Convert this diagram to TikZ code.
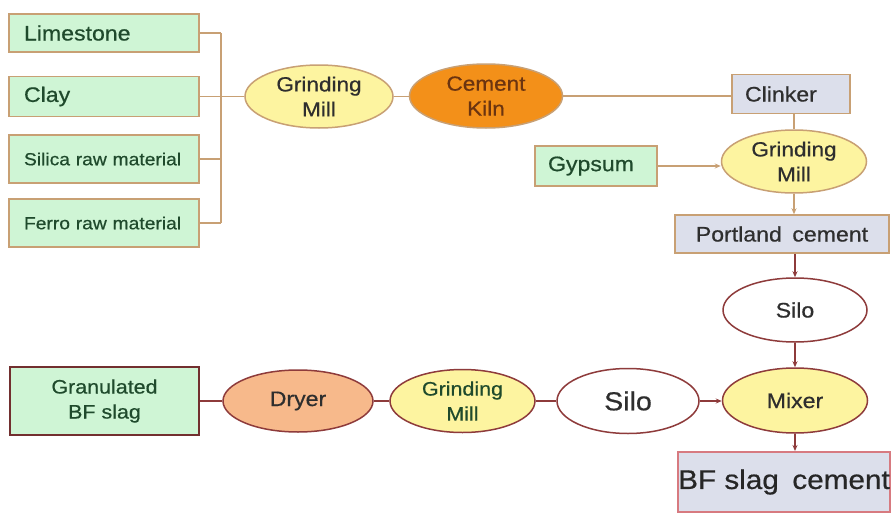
\documentclass[tikz,border=0pt]{standalone}
\usepackage{fontspec}
\setmainfont{Liberation Sans}[FakeStretch=1.1,FakeBold=0.6]
\usetikzlibrary{shapes.geometric,arrows.meta}
\definecolor{greenf}{HTML}{CFF5D5}
\definecolor{greent}{HTML}{1F4A2C}
\definecolor{tanb}{HTML}{C8A074}
\definecolor{yellowf}{HTML}{FDF4A0}
\definecolor{kilnf}{HTML}{F39019}
\definecolor{kilnt}{HTML}{6B3410}
\definecolor{dryerf}{HTML}{F7B98B}
\definecolor{grayf}{HTML}{DCDFEB}
\definecolor{pinkb}{HTML}{D77A80}
\definecolor{redb}{HTML}{8E3B3B}
\definecolor{darkt}{HTML}{2E2E2E}
\tikzset{
  fs/.style={font=\fontsize{#1}{25}\selectfont},
  greenbox/.style={draw=tanb, fill=greenf, line width=1.5pt, text=greent, rectangle, inner sep=0pt, align=left},
  graybox/.style={draw=tanb, fill=grayf, line width=1.5pt, text=darkt, rectangle, inner sep=0pt},
  yell/.style={ellipse, draw=tanb, fill=yellowf, line width=1.5pt, text=darkt, inner sep=0pt, align=center},
  tanline/.style={draw=tanb, line width=1.5pt},
  redline/.style={draw=redb, line width=1.5pt},
  arr/.style={-{Stealth[length=6pt,width=5pt]}},
}
\begin{document}
\begin{tikzpicture}[x=1pt,y=-1pt]
\useasboundingbox[fill=white] (0,0) rectangle (892,514);
% raw materials
\node[greenbox, fs=21, minimum width=190, minimum height=38, text width=180] (lime) at (104,33) {\hspace*{10pt}Limestone};
\node[greenbox, fs=21, minimum width=190, minimum height=40, text width=180] (clay) at (104,96.5) {\hspace*{10pt}Clay};
\node[greenbox, fs=17.5, minimum width=190, minimum height=48, text width=180] (silica) at (104,159) {\hspace*{10pt}Silica raw material};
\node[greenbox, fs=17.5, minimum width=190, minimum height=48, text width=180] (ferro) at (104,223) {\hspace*{10pt}Ferro raw material};
\coordinate (bx) at (221,0);
\node[yell, fs=20.5, minimum width=148, minimum height=63] (gm1) at (319,96.5) {Grinding\\Mill};
\node[ellipse, draw=tanb, fill=kilnf, line width=1.5pt, text=kilnt, inner sep=0pt, align=center, fs=20.5, minimum width=153, minimum height=64] (kiln) at (486,96) {Cement\\Kiln};
\node[graybox, fs=21, minimum width=118, minimum height=39, text width=108, align=left] (clinker) at (791,94) {\hspace*{8pt}Clinker};
\node[yell, fs=20.5, minimum width=145, minimum height=63] (gm2) at (794,161.5) {Grinding\\Mill};
\node[greenbox, fs=21, minimum width=122, minimum height=40, text width=112] (gyp) at (596,166) {\hspace*{8pt}Gypsum};
\node[graybox, fs=21, minimum width=214, minimum height=38] (port) at (782,234) {Portland\enspace cement};
\node[ellipse, draw=redb, fill=white, line width=1.5pt, text=darkt, inner sep=0pt, fs=21, minimum width=144, minimum height=64] (silo1) at (795,310) {Silo};
\node[ellipse, draw=redb, fill=yellowf, line width=1.5pt, text=darkt, inner sep=0pt, fs=21, minimum width=145, minimum height=65] (mixer) at (795,400.5) {Mixer};
\node[rectangle, draw=pinkb, fill=grayf, line width=2pt, text=black!85, inner sep=0pt, fs=27, minimum width=212, minimum height=60] (bfc) at (784,482) {BF slag\enspace cement};
% bottom row
\node[rectangle, draw=redb!80!black, fill=greenf, line width=2pt, text=greent, inner sep=0pt, align=center, fs=19.5, minimum width=189, minimum height=68] (gran) at (104.5,401) {Granulated\\BF slag};
\node[ellipse, draw=redb, fill=dryerf, line width=1.5pt, text=darkt, inner sep=0pt, fs=21, minimum width=150, minimum height=62] (dryer) at (298,401) {Dryer};
\node[ellipse, draw=redb, fill=yellowf, line width=1.5pt, text=greent, inner sep=0pt, align=center, fs=19.5, minimum width=145, minimum height=63] (gm3) at (462.5,401) {Grinding\\Mill};
\node[ellipse, draw=redb, fill=white, line width=1.5pt, text=darkt, inner sep=0pt, fs=26, minimum width=142, minimum height=65] (silo2) at (628,401) {Silo};
% connectors top
\draw[tanline] (lime.east) -- (lime.east -| bx);
\draw[tanline] (clay.east) -- (gm1.west);
\draw[tanline] (silica.east) -- (silica.east -| bx);
\draw[tanline] (ferro.east) -- (ferro.east -| bx);
\draw[tanline] (lime.east -| bx) -- (ferro.east -| bx);
\draw[tanline] (gm1.east) -- (gm1.east -| kiln.west);
\draw[tanline] (kiln.east) -- (kiln.east -| clinker.west);
\draw[tanline] (clinker.south -| gm2.north) -- (gm2.north);
\draw[tanline, arr] (gyp.east) -- (gyp.east -| gm2.west);
\draw[tanline, arr] (gm2.south) -- (gm2.south |- port.north);
% right column
\draw[redline, arr] (port.south -| silo1.north) -- (silo1.north);
\draw[redline, arr] (silo1.south) -- (silo1.south |- mixer.north);
\draw[redline, arr] (mixer.south) -- (mixer.south |- bfc.north);
% bottom
\draw[redline] (gran.east) -- (dryer.west);
\draw[redline] (dryer.east) -- (gm3.west);
\draw[redline] (gm3.east) -- (silo2.west);
\draw[redline, arr] (silo2.east) -- (silo2.east -| mixer.west);
\end{tikzpicture}
\end{document}
